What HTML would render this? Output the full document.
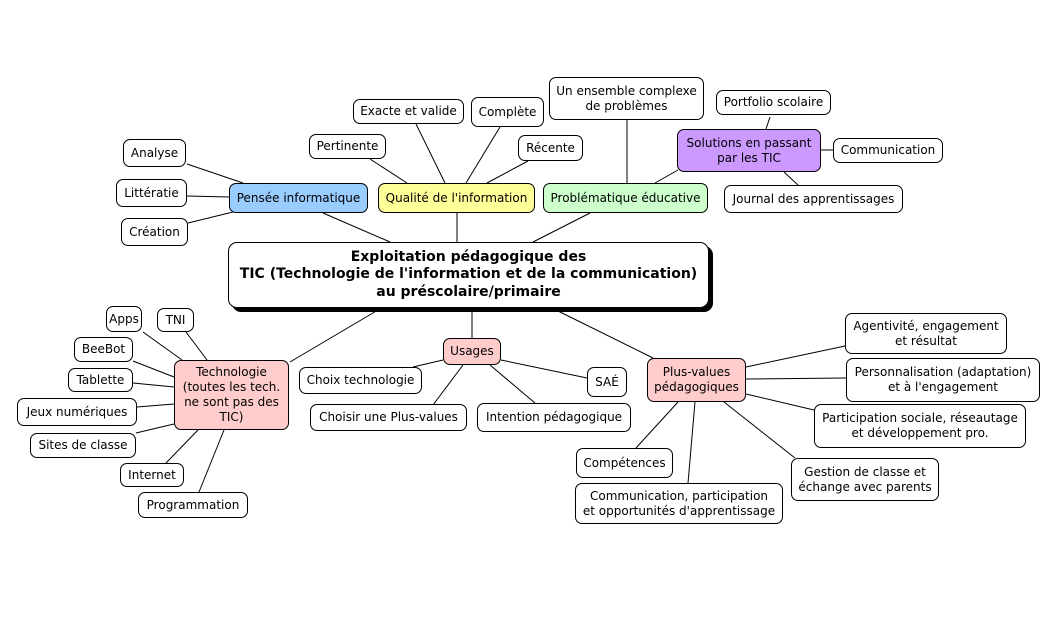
<!DOCTYPE html>
<html><head><meta charset="utf-8">
<style>
html,body{margin:0;padding:0;background:#fff;}
body{width:1062px;height:620px;position:relative;overflow:hidden;font-family:"DejaVu Sans","Liberation Sans",sans-serif;}
svg{position:absolute;left:0;top:0;}
.n{position:absolute;box-sizing:border-box;border:1px solid #000;border-radius:7px;background:#fff;display:flex;align-items:center;justify-content:center;text-align:center;font-size:12px;line-height:15px;color:#000;white-space:nowrap;}
.c{font-weight:bold;font-size:14px;line-height:17.5px;box-shadow:4px 4px 0 #000;border-radius:9px;}
.pink{background:#ffcccc;}
.blue{background:#99ccff;}
.yel{background:#ffff99;}
.grn{background:#ccffcc;}
.pur{background:#cc99ff;}
</style></head><body>
<svg width="1062" height="620" viewBox="0 0 1062 620" fill="none" stroke="#000" stroke-width="1">
<!-- center -->
<line x1="323" y1="213" x2="390" y2="242"/>
<line x1="457" y1="213" x2="457" y2="242"/>
<line x1="590" y1="213" x2="533" y2="242"/>
<line x1="378" y1="310" x2="290" y2="362"/>
<line x1="472" y1="308" x2="472" y2="338"/>
<line x1="554" y1="309" x2="653" y2="358"/>
<!-- pensee -->
<line x1="187" y1="164" x2="243" y2="183"/>
<line x1="187" y1="196" x2="229" y2="197"/>
<line x1="188" y1="223" x2="233" y2="212"/>
<!-- qualite -->
<line x1="370" y1="159" x2="407" y2="183"/>
<line x1="416" y1="124" x2="445" y2="183"/>
<line x1="500" y1="127" x2="466" y2="183"/>
<line x1="528" y1="161" x2="487" y2="183"/>
<!-- problematique -->
<line x1="627" y1="120" x2="627" y2="183"/>
<line x1="655" y1="183" x2="678" y2="170"/>
<line x1="766" y1="129" x2="770" y2="117"/>
<line x1="821" y1="150" x2="833" y2="150"/>
<line x1="784" y1="172" x2="798" y2="185"/>
<!-- technologie -->
<line x1="143" y1="332" x2="182" y2="360"/>
<line x1="186" y1="332" x2="207" y2="360"/>
<line x1="133" y1="361" x2="174" y2="377"/>
<line x1="133" y1="383" x2="174" y2="387"/>
<line x1="137" y1="407" x2="174" y2="404"/>
<line x1="136" y1="433" x2="174" y2="424"/>
<line x1="166" y1="463" x2="198" y2="430"/>
<line x1="199" y1="492" x2="224" y2="430"/>
<!-- usages -->
<line x1="443" y1="360" x2="413" y2="367"/>
<line x1="463" y1="365" x2="433" y2="405"/>
<line x1="490" y1="365" x2="535" y2="403"/>
<line x1="501" y1="360" x2="587" y2="378"/>
<!-- plus-values -->
<line x1="746" y1="367" x2="845" y2="346"/>
<line x1="746" y1="379" x2="846" y2="378"/>
<line x1="746" y1="394" x2="814" y2="410"/>
<line x1="724" y1="402" x2="795" y2="458"/>
<line x1="678" y1="402" x2="636" y2="448"/>
<line x1="695" y1="402" x2="688" y2="483"/>
</svg>

<div class="n c" style="left:228px;top:242px;width:481px;height:66px;">Exploitation pédagogique des<br>TIC (Technologie de l'information et de la communication)<br>au préscolaire/primaire</div>

<div class="n blue" style="left:229px;top:183px;width:139px;height:30px;">Pensée informatique</div>
<div class="n yel" style="left:378px;top:183px;width:157px;height:30px;">Qualité de l'information</div>
<div class="n grn" style="left:543px;top:183px;width:165px;height:30px;">Problématique éducative</div>

<div class="n" style="left:123px;top:139px;width:63px;height:28px;">Analyse</div>
<div class="n" style="left:116px;top:179px;width:71px;height:28px;">Littératie</div>
<div class="n" style="left:121px;top:218px;width:67px;height:28px;">Création</div>

<div class="n" style="left:309px;top:134px;width:77px;height:25px;">Pertinente</div>
<div class="n" style="left:353px;top:99px;width:111px;height:25px;">Exacte et valide</div>
<div class="n" style="left:471px;top:97px;width:73px;height:30px;">Complète</div>
<div class="n" style="left:518px;top:135px;width:65px;height:26px;">Récente</div>

<div class="n" style="left:549px;top:77px;width:155px;height:43px;">Un ensemble complexe<br>de problèmes</div>
<div class="n" style="left:716px;top:90px;width:115px;height:25px;">Portfolio scolaire</div>
<div class="n pur" style="left:677px;top:129px;width:144px;height:43px;">Solutions en passant<br>par les TIC</div>
<div class="n" style="left:833px;top:138px;width:110px;height:25px;">Communication</div>
<div class="n" style="left:724px;top:185px;width:179px;height:28px;">Journal des apprentissages</div>

<div class="n pink" style="left:174px;top:360px;width:115px;height:70px;">Technologie<br>(toutes les tech.<br>ne sont pas des<br>TIC)</div>
<div class="n" style="left:106px;top:306px;width:36px;height:26px;">Apps</div>
<div class="n" style="left:157px;top:308px;width:37px;height:24px;">TNI</div>
<div class="n" style="left:74px;top:337px;width:59px;height:25px;">BeeBot</div>
<div class="n" style="left:68px;top:368px;width:65px;height:24px;">Tablette</div>
<div class="n" style="left:17px;top:398px;width:120px;height:28px;">Jeux numériques</div>
<div class="n" style="left:30px;top:433px;width:106px;height:25px;">Sites de classe</div>
<div class="n" style="left:120px;top:463px;width:64px;height:24px;">Internet</div>
<div class="n" style="left:138px;top:492px;width:110px;height:26px;">Programmation</div>

<div class="n pink" style="left:443px;top:338px;width:58px;height:27px;">Usages</div>
<div class="n" style="left:299px;top:367px;width:123px;height:27px;">Choix technologie</div>
<div class="n" style="left:310px;top:404px;width:157px;height:27px;">Choisir une Plus-values</div>
<div class="n" style="left:477px;top:403px;width:154px;height:29px;">Intention pédagogique</div>
<div class="n" style="left:587px;top:367px;width:40px;height:30px;">SAÉ</div>

<div class="n pink" style="left:647px;top:358px;width:99px;height:44px;">Plus-values<br>pédagogiques</div>
<div class="n" style="left:845px;top:313px;width:162px;height:41px;">Agentivité, engagement<br>et résultat</div>
<div class="n" style="left:846px;top:358px;width:194px;height:44px;">Personnalisation (adaptation)<br>et à l'engagement</div>
<div class="n" style="left:814px;top:404px;width:212px;height:44px;">Participation sociale, réseautage<br>et développement pro.</div>
<div class="n" style="left:791px;top:458px;width:148px;height:43px;">Gestion de classe et<br>échange avec parents</div>
<div class="n" style="left:576px;top:448px;width:97px;height:30px;">Compétences</div>
<div class="n" style="left:575px;top:483px;width:208px;height:41px;">Communication, participation<br>et opportunités d'apprentissage</div>
</body></html>
